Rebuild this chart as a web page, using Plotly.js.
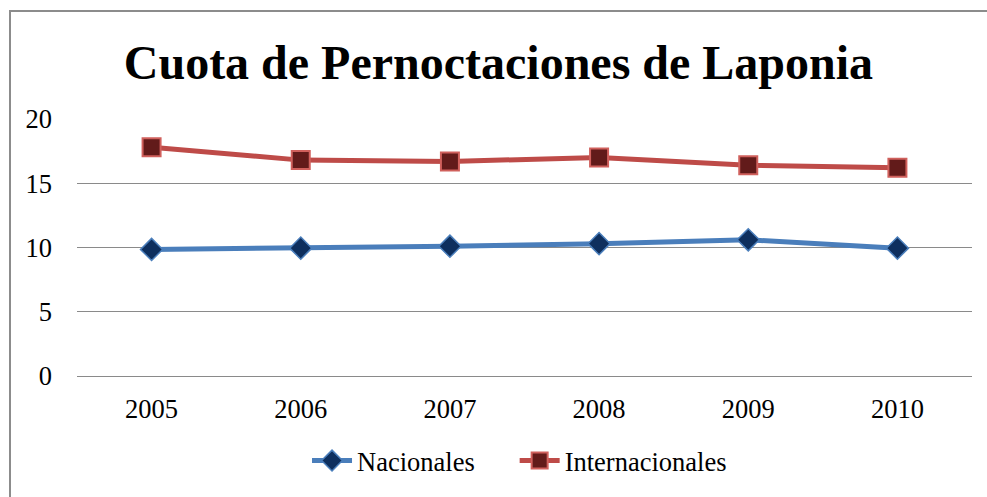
<!DOCTYPE html>
<html>
<head>
<meta charset="utf-8">
<script src="https://cdn.plot.ly/plotly-3.0.1.min.js"></script>
<style>
html, body { margin:0; padding:0; background:#fff; overflow:hidden; width:987px; height:497px; position:relative; }
#frame { position:absolute; left:9px; top:10px; width:1100px; height:600px; border-left:2px solid #8c8c8c; border-top:2px solid #8c8c8c; box-sizing:border-box; }
#chart { position:absolute; left:0; top:0; width:987px; height:497px; }
</style>
</head>
<body>
<div id="frame"></div>
<div id="chart"></div>
<script>
const years = ['2005', '2006', '2007', '2008', '2009', '2010'];
const nacionales = [9.85, 9.95, 10.1, 10.3, 10.6, 9.95];
const internacionales = [17.8, 16.8, 16.7, 17.0, 16.4, 16.2];
const yTicks = [0, 5, 10, 15, 20];

const serif = 'Liberation Serif, Times New Roman, serif';

const traces = [
  {
    x: years, y: nacionales, name: 'Nacionales', type: 'scatter', mode: 'lines+markers',
    legend: 'legend',
    line: { color: '#4A7EBB', width: 5 },
    marker: { symbol: 'diamond', size: 17, color: '#0E2F5E', line: { color: '#4A7EBB', width: 1.5 } }
  },
  {
    x: years, y: internacionales, name: 'Internacionales', type: 'scatter', mode: 'lines+markers',
    legend: 'legend2',
    line: { color: '#BE4B48', width: 5 },
    marker: { symbol: 'square', size: 18, color: '#621B1A', line: { color: '#D0605C', width: 2 } }
  }
];

const legendFont = { family: serif, size: 26.5, color: '#000' };

const layout = {
  width: 987, height: 497,
  margin: { l: 77, r: 15, t: 119, b: 118 },
  paper_bgcolor: 'rgba(0,0,0,0)',
  plot_bgcolor: 'rgba(0,0,0,0)',
  font: { family: serif, size: 26.5, color: '#000' },
  title: {
    text: '<b>Cuota de Pernoctaciones de Laponia</b>',
    font: { family: serif, size: 48, color: '#000' },
    x: 0.505, xanchor: 'center', y: 1 - 62 / 497, yanchor: 'middle'
  },
  xaxis: {
    type: 'category', range: [-0.5, 5.5], showgrid: false, zeroline: false,
    showline: false, ticks: '', ticklabelstandoff: 14,
    tickfont: { family: serif, size: 26.5, color: '#000' }
  },
  yaxis: {
    range: [0, 20], tickvals: yTicks, showgrid: true, gridcolor: '#8a8a8a', gridwidth: 1,
    zeroline: true, zerolinecolor: '#8a8a8a', zerolinewidth: 1,
    showline: false, ticks: '', ticklabelstandoff: 24, fixedrange: true,
    tickfont: { family: serif, size: 26.5, color: '#000' }
  },
  showlegend: true,
  legend: {
    orientation: 'h', x: 0.257, xanchor: 'left', y: -0.33, yanchor: 'middle',
    font: legendFont, itemwidth: 40, bgcolor: 'rgba(0,0,0,0)'
  },
  legend2: {
    orientation: 'h', x: 0.489, xanchor: 'left', y: -0.33, yanchor: 'middle',
    font: legendFont, itemwidth: 40, bgcolor: 'rgba(0,0,0,0)'
  }
};

Plotly.newPlot('chart', traces, layout, { displayModeBar: false, staticPlot: true });
</script>
</body>
</html>
